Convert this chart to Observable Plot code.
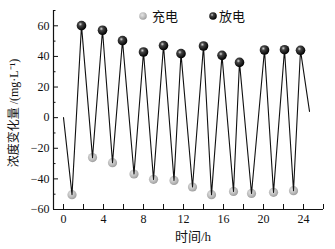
<!DOCTYPE html>
<html><head><meta charset="utf-8">
<script src="https://cdn.jsdelivr.net/npm/d3@7"></script>
<script src="https://cdn.jsdelivr.net/npm/@observablehq/plot@0.6"></script>
<style>body{margin:0;background:#fff}</style>
</head><body><div id="chart"></div>
<script>
const chargeX = [0.85, 2.9, 4.9, 7.05, 9.0, 11.05, 12.9, 14.8, 17.0, 18.8, 21.0, 23.0];
const chargeY = [-50.3, -26.1, -29.4, -36.8, -40.3, -41.0, -45.3, -50.3, -48.2, -49.5, -48.8, -47.7];
const dischargeX = [1.8, 3.9, 5.9, 8.0, 10.0, 11.75, 14.0, 15.85, 17.6, 20.1, 22.1, 23.7];
const dischargeY = [60.1, 57.1, 50.3, 42.9, 47.1, 41.8, 46.8, 40.7, 36.1, 44.2, 44.4, 44.0];
const startPt = {x: 0, y: 0};
const endPt = {x: 24.6, y: 4.1};
const xMajor = [0, 4, 8, 12, 16, 20, 24];
const xMinor = [2, 6, 10, 14, 18, 22, 26];
const yMajor = [-60, -40, -20, 0, 20, 40, 60];
const yMinor = [-50, -30, -10, 10, 30, 50, 70];
const labels = {charge: "充电", discharge: "放电", x: "时间/h", y: "浓度变化量 /(mg·L⁻¹)"};

const charge = chargeX.map((x, i) => ({x, y: chargeY[i]}));
const discharge = dischargeX.map((x, i) => ({x, y: dischargeY[i]}));
const linePts = [startPt, ...charge, ...discharge, endPt].sort((a, b) => a.x - b.x);

const font = "'Liberation Serif', 'Noto Sans CJK SC', serif";
const chart = Plot.plot({
  width: 335, height: 249,
  marginLeft: 53, marginRight: 12, marginTop: 10, marginBottom: 40,
  style: {fontFamily: font, fontSize: "12px", color: "#111", background: "#fff"},
  x: {domain: [-1, 26]},
  y: {domain: [-60, 70]},
  marks: [
    Plot.axisX({ticks: xMajor, tickSize: -5, tickPadding: 10, label: null, fontSize: 12}),
    Plot.axisX({ticks: xMinor, tickSize: -5, tickFormat: () => "", label: null}),
    Plot.axisY({ticks: yMajor, tickSize: -5, tickPadding: 9, label: null, fontSize: 12}),
    Plot.axisY({ticks: yMinor, tickSize: -2.5, tickFormat: () => "", label: null}),
    Plot.ruleY([-60], {stroke: "#111", strokeWidth: 1.2}),
    Plot.ruleX([-1], {stroke: "#111", strokeWidth: 1.2}),
    Plot.dot(charge, {x: "x", y: "y", r: 4.6, fill: "url(#gGray)", stroke: "none"}),
    Plot.line(linePts, {x: "x", y: "y", stroke: "#111", strokeWidth: 1.1}),
    Plot.dot(discharge, {x: "x", y: "y", r: 4.8, fill: "url(#gBlack)", stroke: "none"})
  ]
});

// gradients for sphere-like markers
const svg = d3.select(chart);
const defs = svg.insert("defs", ":first-child");
const gg = defs.append("radialGradient").attr("id", "gGray").attr("cx", "40%").attr("cy", "38%").attr("r", "65%");
gg.append("stop").attr("offset", "0%").attr("stop-color", "#e6e6e6");
gg.append("stop").attr("offset", "70%").attr("stop-color", "#b4b4b4");
gg.append("stop").attr("offset", "100%").attr("stop-color", "#9a9a9a");
const gb = defs.append("radialGradient").attr("id", "gBlack").attr("cx", "38%").attr("cy", "35%").attr("r", "65%");
gb.append("stop").attr("offset", "0%").attr("stop-color", "#d8d8d8");
gb.append("stop").attr("offset", "30%").attr("stop-color", "#444");
gb.append("stop").attr("offset", "100%").attr("stop-color", "#000");

// axis titles and legend as SVG text
svg.append("text").attr("x", 193).attr("y", 241).attr("text-anchor", "middle")
  .attr("font-family", font).attr("font-size", 13).attr("fill", "#111").text(labels.x);
svg.append("text").attr("transform", "translate(18,113) rotate(-90)").attr("text-anchor", "middle")
  .attr("font-family", font).attr("font-size", 12).attr("fill", "#111").text(labels.y);
const leg = [{fill: "url(#gGray)", cx: 143, tx: 152, t: labels.charge, r: 3.8}, {fill: "url(#gBlack)", cx: 213, tx: 219, t: labels.discharge, r: 3.8}];
leg.forEach(d => {
  svg.append("circle").attr("cx", d.cx).attr("cy", 16).attr("r", d.r).attr("fill", d.fill);
  svg.append("text").attr("x", d.tx).attr("y", 20.5).attr("text-anchor", "start")
    .attr("font-family", font).attr("font-size", 13).attr("fill", "#111").text(d.t);
});
document.getElementById("chart").append(chart);
</script>
</body></html>
